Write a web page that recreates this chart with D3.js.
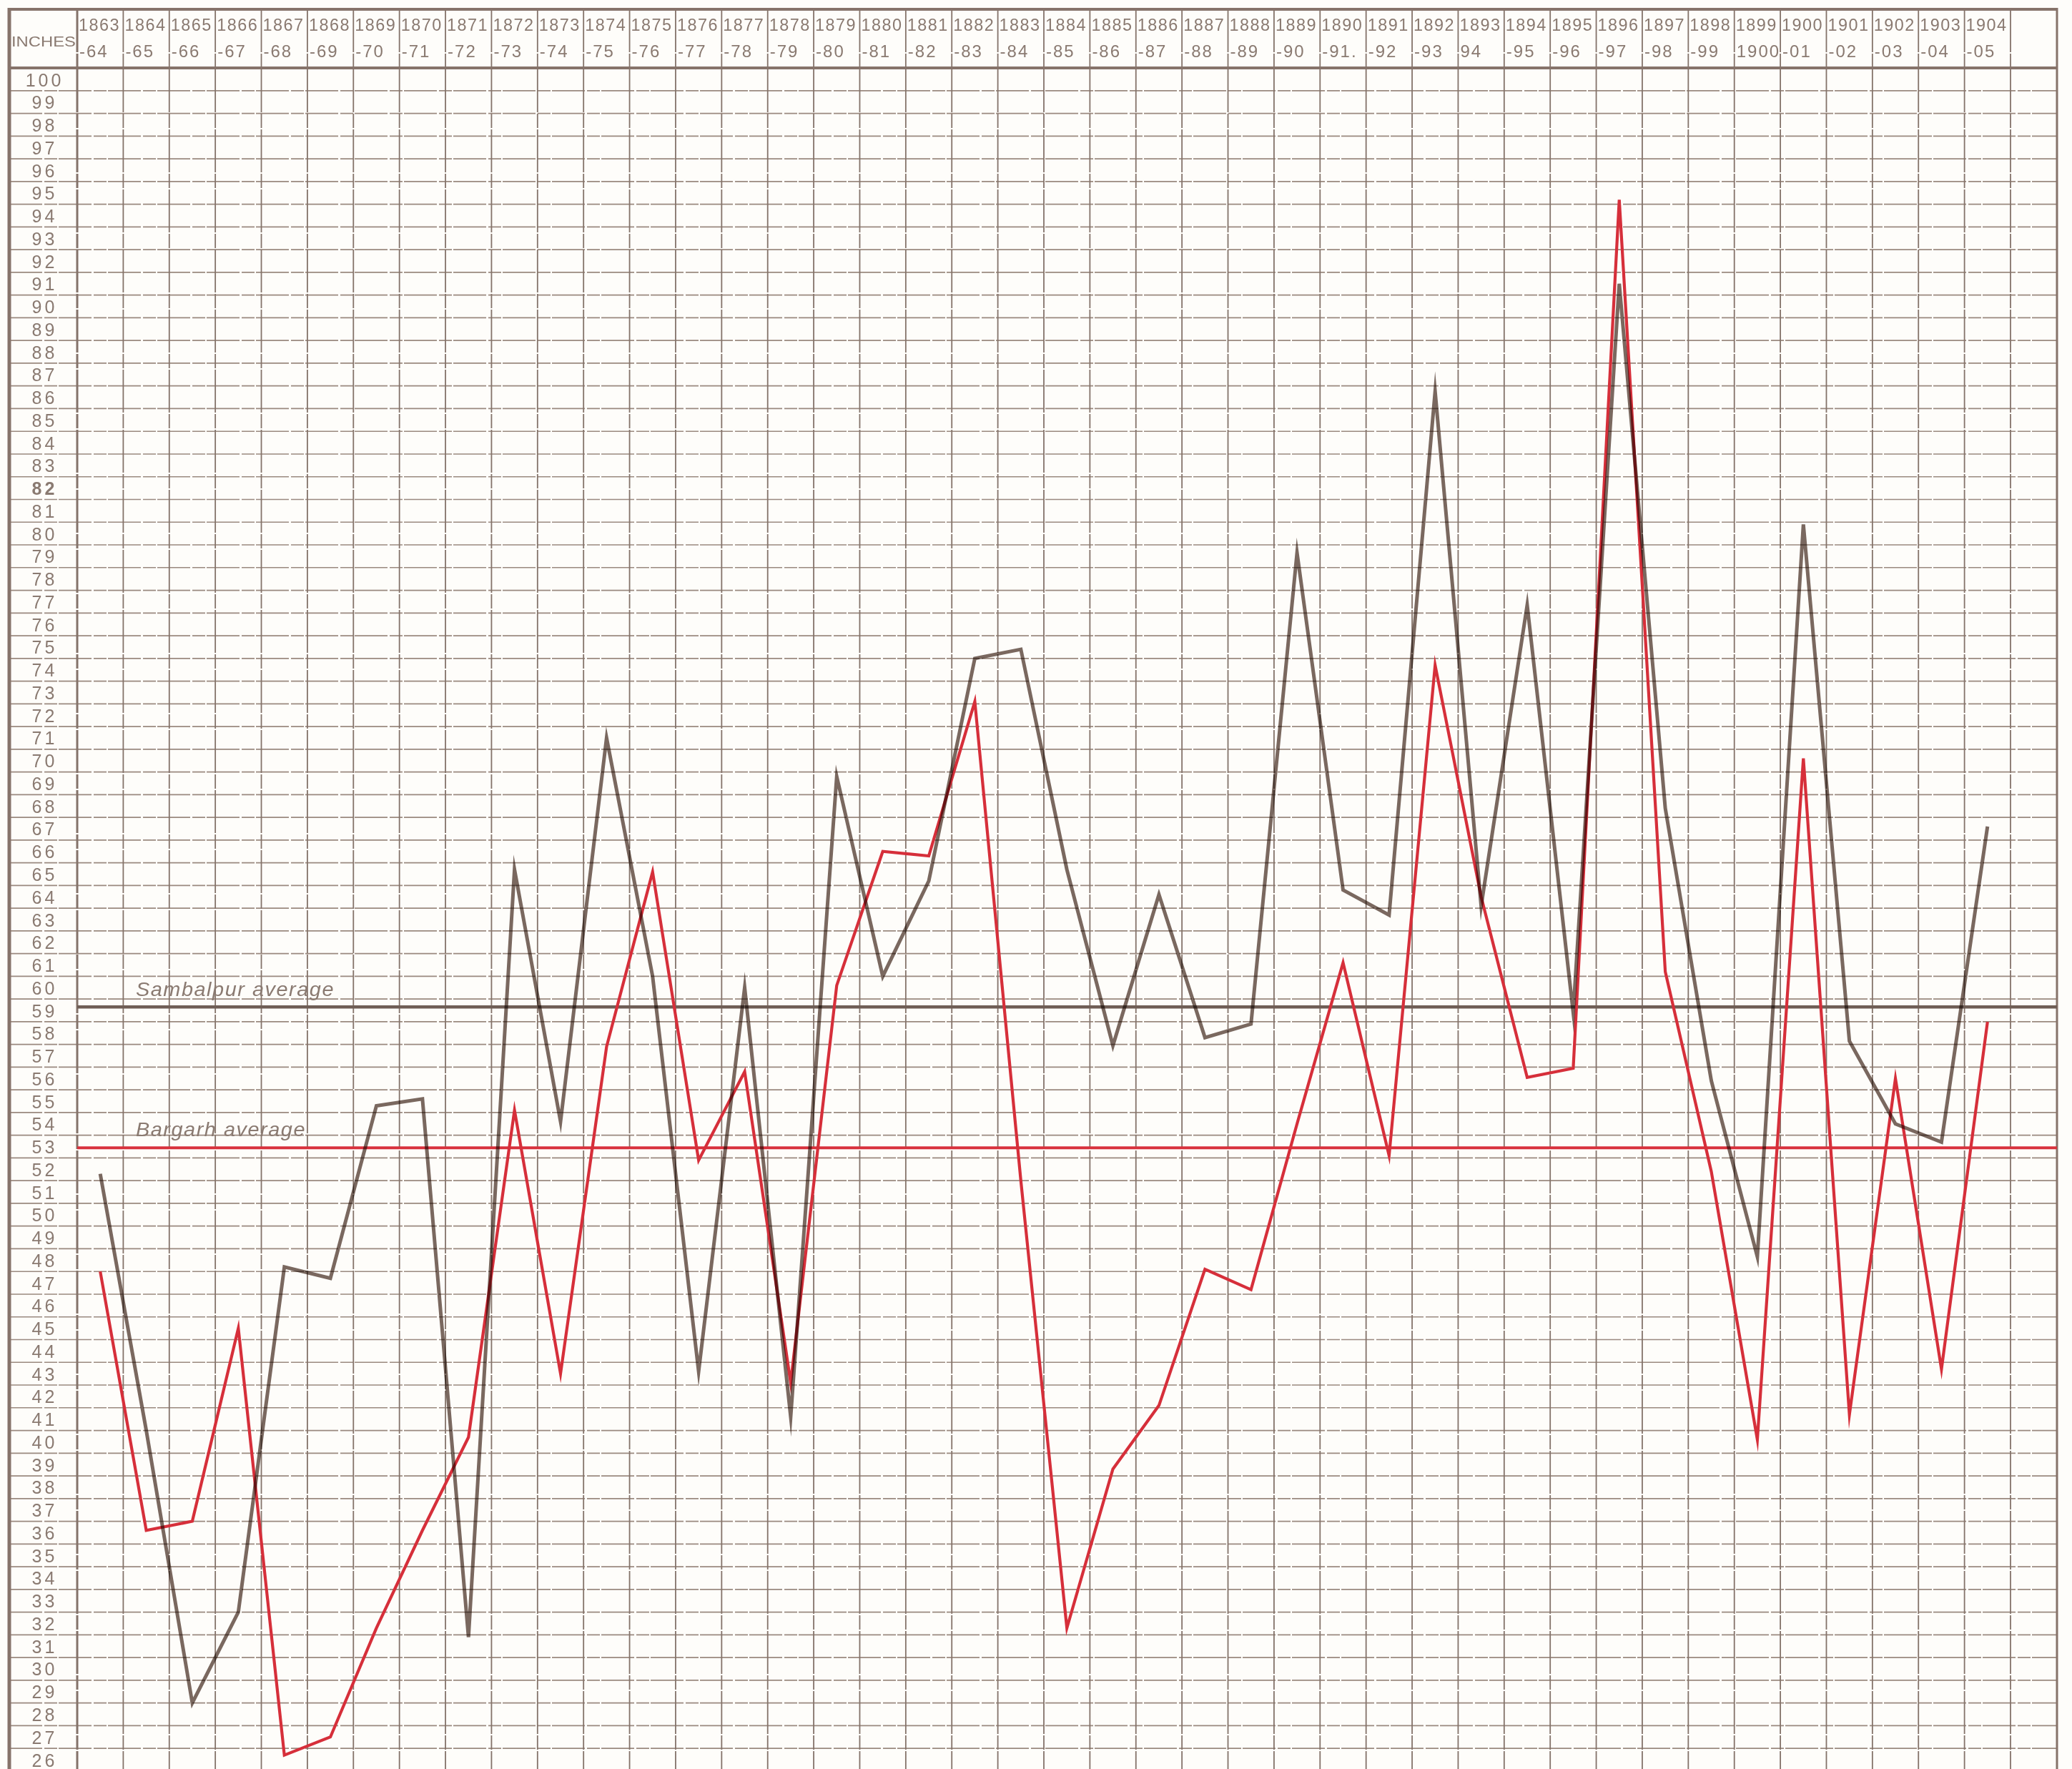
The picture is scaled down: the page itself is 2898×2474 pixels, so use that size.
<!DOCTYPE html>
<html>
<head>
<meta charset="utf-8">
<script src="https://cdn.jsdelivr.net/npm/d3@7"></script>
<style>
  body { margin: 0; background: #fefdfa; }
  svg { display: block; }
  text { font-family: "Liberation Sans", Arial, sans-serif; fill: #8a7a71; }
</style>
</head>
<body>
<svg id="chart" width="2898" height="2474"></svg>
<script>
// rainfall in inches, season by season
const seasonStart = ['1863', '1864', '1865', '1866', '1867', '1868', '1869', '1870', '1871', '1872',
  '1873', '1874', '1875', '1876', '1877', '1878', '1879', '1880', '1881', '1882', '1883', '1884',
  '1885', '1886', '1887', '1888', '1889', '1890', '1891', '1892', '1893', '1894', '1895', '1896',
  '1897', '1898', '1899', '1900', '1901', '1902', '1903', '1904'];
const seasonEnd = ['-64', '-65', '-66', '-67', '-68', '-69', '-70', '-71', '-72', '-73',
  '-74', '-75', '-76', '-77', '-78', '-79', '-80', '-81', '-82', '-83', '-84', '-85',
  '-86', '-87', '-88', '-89', '-90', '-91.', '-92', '-93', '94', '-95', '-96', '-97',
  '-98', '-99', '1900', '-01', '-02', '-03', '-04', '-05'];

const sambalpur = [51.8, 40.5, 28.5, 32.5, 47.7, 47.2, 54.8, 55.1, 31.4, 65.2,
  54.1, 71.0, 60.5, 43.1, 60.0, 41.1, 69.3, 60.5, 64.7, 74.5, 74.9, 65.2,
  57.45, 64.1, 57.8, 58.4, 79.15, 64.3, 63.2, 86.25, 63.6, 76.85, 58.9, 91.0,
  67.9, 55.9, 48.15, 80.4, 57.65, 54.0, 53.2, 67.1];
const bargarh = [47.5, 36.1, 36.5, 45.0, 26.2, 27.0, 31.8, 36.1, 40.2, 54.6,
  43.0, 57.4, 65.1, 52.4, 56.3, 42.6, 60.1, 66.0, 65.8, 72.6, 51.5, 31.8,
  38.8, 41.6, 47.6, 46.7, 54.0, 61.1, 52.6, 74.2, 64.0, 56.05, 56.45, 94.7,
  60.7, 51.9, 40.1, 70.1, 41.2, 56.0, 43.2, 58.5];

const sambalpurAverage = 59.15;
const bargarhAverage = 52.95;
const inchTicks = d3.range(100, 25, -1);

const width = 2898, height = 2474;
const frameLeft = 13, frameTop = 13, frameRight = 2877;
const plotLeft = 108, plotRight = 2812;

const svg = d3.select('#chart');

const x = d3.scaleBand().domain(seasonStart).range([plotLeft, plotRight]);
const y = d3.scaleLinear().domain([26, 100]).range([2461, 111]);
const headerBottom = y(100.5);
const cx = (i) => x(seasonStart[i]) + x.bandwidth() / 2;

svg.append('rect').attr('width', width).attr('height', height).attr('fill', '#fefdfa');

// ruled paper
const grid = svg.append('g');

grid.selectAll('line.row')
  .data(d3.range(99.5, 25, -1))
  .join('line')
  .attr('class', 'row')
  .attr('x1', frameLeft).attr('x2', frameRight)
  .attr('y1', (d) => y(d)).attr('y2', (d) => y(d))
  .attr('stroke', '#9a897f')
  .attr('stroke-width', 1.7)
  .attr('stroke-dasharray', '46,3,18,2');

const columnEdges = seasonStart.map((d) => x(d)).concat([plotRight]);
grid.selectAll('line.col')
  .data(columnEdges)
  .join('line')
  .attr('class', 'col')
  .attr('x1', (d) => d).attr('x2', (d) => d)
  .attr('y1', frameTop).attr('y2', height)
  .attr('stroke', '#84736a')
  .attr('stroke-width', (d) => (d === plotLeft ? 3 : 1.8))
  .attr('stroke-dasharray', '60,2,20,2');

// frame
grid.append('line')
  .attr('x1', frameLeft).attr('x2', frameLeft).attr('y1', frameTop - 2).attr('y2', height)
  .attr('stroke', '#86736a').attr('stroke-width', 5);
grid.append('line')
  .attr('x1', frameRight).attr('x2', frameRight).attr('y1', frameTop - 2).attr('y2', height)
  .attr('stroke', '#86736a').attr('stroke-width', 3);
grid.append('line')
  .attr('x1', frameLeft).attr('x2', frameRight).attr('y1', frameTop).attr('y2', frameTop)
  .attr('stroke', '#86736a').attr('stroke-width', 4);
grid.append('line')
  .attr('x1', frameLeft).attr('x2', frameRight).attr('y1', headerBottom).attr('y2', headerBottom)
  .attr('stroke', '#86736a').attr('stroke-width', 4);

// header
svg.append('text')
  .attr('x', frameLeft + 3).attr('y', 65)
  .attr('font-size', 21)
  .attr('textLength', 90).attr('lengthAdjust', 'spacingAndGlyphs')
  .text('INCHES');

const header = svg.append('g');
header.selectAll('text.start')
  .data(seasonStart)
  .join('text')
  .attr('class', 'start')
  .attr('x', (d) => x(d) + 2)
  .attr('y', 43)
  .attr('font-size', 24)
  .attr('letter-spacing', 1.5)
  .attr('textLength', 58).attr('lengthAdjust', 'spacingAndGlyphs')
  .text((d) => d);

header.selectAll('text.end')
  .data(seasonEnd)
  .join('text')
  .attr('class', 'end')
  .attr('x', (d, i) => x(seasonStart[i]) + 3)
  .attr('y', 80)
  .attr('font-size', 24)
  .attr('letter-spacing', 2)
  .text((d) => d);

// inch scale
const axis = svg.append('g')
  .attr('transform', `translate(${(frameLeft + plotLeft) / 2 + 2},0)`)
  .call(d3.axisLeft(y).tickValues(inchTicks).tickSize(0).tickFormat(d3.format('d')));
axis.select('.domain').remove();
axis.selectAll('text')
  .attr('x', 0)
  .attr('dy', '0.36em')
  .attr('text-anchor', 'middle')
  .attr('font-size', 25)
  .attr('letter-spacing', 4)
  .attr('font-family', '"Liberation Sans", Arial, sans-serif')
  .attr('fill', '#8a7a71')
  .attr('font-weight', (d) => (d === 82 ? 'bold' : null));

// averages
svg.append('line')
  .attr('x1', plotLeft).attr('x2', frameRight)
  .attr('y1', y(sambalpurAverage)).attr('y2', y(sambalpurAverage))
  .attr('stroke', '#6f5e56').attr('stroke-width', 4.5);
svg.append('line')
  .attr('x1', plotLeft).attr('x2', frameRight)
  .attr('y1', y(bargarhAverage)).attr('y2', y(bargarhAverage))
  .attr('stroke', '#d8323d').attr('stroke-width', 4);

svg.append('text')
  .attr('x', 190).attr('y', y(sambalpurAverage) - 15)
  .attr('font-size', 28).attr('font-style', 'italic').attr('letter-spacing', 1.5)
  .attr('font-family', '"DejaVu Sans", sans-serif')
  .attr('textLength', 278).attr('lengthAdjust', 'spacingAndGlyphs')
  .text('Sambalpur  average');
svg.append('text')
  .attr('x', 190).attr('y', y(bargarhAverage) - 16)
  .attr('font-size', 28).attr('font-style', 'italic').attr('letter-spacing', 1.5)
  .attr('font-family', '"DejaVu Sans", sans-serif')
  .attr('textLength', 238).attr('lengthAdjust', 'spacingAndGlyphs')
  .text('Bargarh  average');

// rainfall lines
const line = d3.line().x((d, i) => cx(i)).y((d) => y(d));

svg.append('path')
  .datum(bargarh)
  .attr('d', line)
  .attr('fill', 'none')
  .attr('stroke', '#d62f3a')
  .attr('stroke-width', 4.2)
  .attr('stroke-linejoin', 'miter')
  .attr('stroke-miterlimit', 12);

svg.append('path')
  .datum(sambalpur)
  .attr('d', line)
  .attr('fill', 'none')
  .attr('stroke', '#7a6961')
  .attr('stroke-width', 5)
  .attr('stroke-linejoin', 'miter')
  .attr('stroke-miterlimit', 12)
  .style('mix-blend-mode', 'multiply');
</script>
</body>
</html>
